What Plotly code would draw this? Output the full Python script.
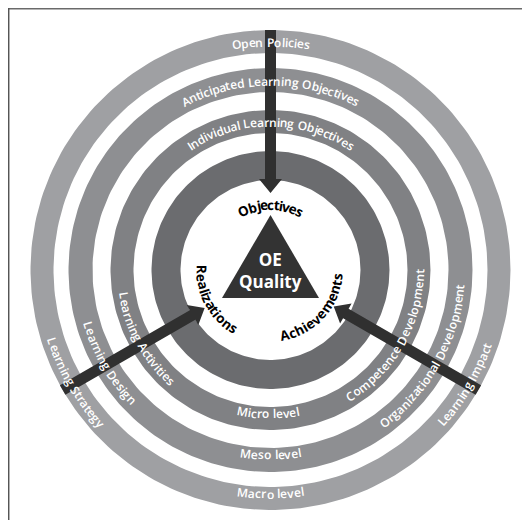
import math
import numpy as np
import plotly.graph_objects as go

# ---------------- data (text content) ----------------
center_label = ["OE", "Quality"]
core_labels = ["Objectives", "Realizations", "Achievements"]
objective_labels = ["Open Policies", "Anticipated Learning Objectives", "Individual Learning Objectives"]
realization_labels = ["Learning Strategy", "Learning Design", "Learning Activities"]
achievement_labels = ["Learning Impact", "Organizational Development", "Competence Development"]
level_labels = ["Macro level", "Meso level", "Micro level"]

# ---------------- layout / style constants ----------------
# the page body has an 8px margin, so the figure covers window pixels 8..522 x 8..520
X0, Y0 = 8, 8
FW, FH = 514, 512
CX, CY = 270.5, 270.0
ring_outer = [240, 202, 160, 119]
ring_inner = [217, 178, 137, 90]
ring_colors = ["#9fa0a3", "#8e8f92", "#808184", "#6b6c6f"]
label_r_top = [228, 189, 148]
label_r_side = [229, 190, 149]
label_r_bottom = [224, 185, 144]
left_center_deg = [210, 210, 209]
right_center_deg = [329.5, 330.5, 330.5]
bottom_center_deg = [270, 270, 269]
ARROW_DIRS = [90, 210, 330]
ARROW_TAIL_R = 240
ARROW_TIP_R = [77, 76, 73]
SHAFT_HW, HEAD_HW, HEAD_LEN = 5.5, 11.5, 14
DARK = "#303030"
FONT = "Open Sans"

# approximate Open Sans advance widths (em)
CW = {' ': .26, 'A': .633, 'C': .63, 'D': .72, 'E': .55, 'I': .30, 'L': .54, 'M': .90,
      'O': .78, 'P': .61, 'Q': .78, 'R': .63, 'S': .54, 'a': .556, 'b': .613, 'c': .476,
      'd': .613, 'e': .561, 'g': .548, 'h': .614, 'i': .253, 'j': .253, 'l': .253,
      'm': .93, 'n': .614, 'o': .604, 'p': .613, 'r': .408, 's': .477, 't': .353,
      'u': .614, 'v': .513, 'y': .513, 'z': .477}

fig = go.Figure()


def circle_pts(r, n=240):
    t = np.linspace(0, 2 * np.pi, n)
    return CX + r * np.cos(t), CY - r * np.sin(t)


# rings
for ro, ri, col in zip(ring_outer, ring_inner, ring_colors):
    xo, yo = circle_pts(ro)
    xi, yi = circle_pts(ri)
    fig.add_trace(go.Scatter(x=np.concatenate([xo, xi[::-1]]), y=np.concatenate([yo, yi[::-1]]),
                             mode="lines", fill="toself", fillcolor=col, line=dict(width=0),
                             hoverinfo="skip", showlegend=False))

# arrows
for ang, tip in zip(ARROW_DIRS, ARROW_TIP_R):
    a = math.radians(ang)
    ux, uy = math.cos(a), -math.sin(a)      # outward, screen coords
    px, py = -uy, ux                         # perpendicular

    def P(r, off):
        return CX + ux * r + px * off, CY + uy * r + py * off
    base = tip + HEAD_LEN
    pts = [P(ARROW_TAIL_R, SHAFT_HW), P(base, SHAFT_HW), P(base, HEAD_HW), P(tip, 0),
           P(base, -HEAD_HW), P(base, -SHAFT_HW), P(ARROW_TAIL_R, -SHAFT_HW), P(ARROW_TAIL_R, SHAFT_HW)]
    fig.add_trace(go.Scatter(x=[p[0] for p in pts], y=[p[1] for p in pts], mode="lines",
                             fill="toself", fillcolor=DARK, line=dict(width=0, color=DARK),
                             hoverinfo="skip", showlegend=False))

# triangle
tri_h = 83
tri_x = [CX, CX + 48.5, CX - 48.5, CX]
tri_y = [215, 215 + tri_h, 215 + tri_h, 215]
fig.add_trace(go.Scatter(x=tri_x, y=tri_y, mode="lines", fill="toself", fillcolor="#333333",
                         line=dict(width=0), hoverinfo="skip", showlegend=False))

annotations = []


def arc_text(text, r, center_deg, size, color, top, weight=400, wscale=1.0):
    widths = [CW.get(ch, .55) * size * wscale for ch in text]
    total = sum(widths)
    c = math.radians(center_deg)
    if top:
        start, d = c + total / 2 / r, -1
    else:
        start, d = c - total / 2 / r, 1
    cum = 0.0
    for ch, w in zip(text, widths):
        a = start + d * (cum + w / 2) / r
        cum += w
        if ch == ' ':
            continue
        x = CX + r * math.cos(a)
        y = CY - r * math.sin(a)
        deg = math.degrees(a)
        rot = 90 - deg if top else -deg - 90
        rot = (rot + 180) % 360 - 180
        annotations.append(dict(x=x, y=y, xref="x", yref="y", text=ch, showarrow=False,
                                textangle=rot, xanchor="center", yanchor="middle",
                                font=dict(family=FONT, size=size, color=color, weight=weight)))


for i in range(3):
    arc_text(objective_labels[i], label_r_top[i], 90, 12, "white", True, weight=600, wscale=1.04)
    arc_text(realization_labels[i], label_r_side[i], left_center_deg[i], 12, "white", False, weight=600, wscale=1.04)
    arc_text(achievement_labels[i], label_r_side[i], right_center_deg[i], 12, "white", False, weight=600, wscale=1.04)
    arc_text(level_labels[i], label_r_bottom[i], bottom_center_deg[i], 12, "white", False, weight=600, wscale=1.04)

arc_text(core_labels[0], 65, 90, 13.5, "black", True, weight=700, wscale=1.03)
arc_text(core_labels[1], 69, 208, 13.5, "black", False, weight=700, wscale=1.03)
arc_text(core_labels[2], 67, 318, 13.5, "black", False, weight=700, wscale=1.03)

annotations.append(dict(x=270, y=270, xref="x", yref="y",
                        text=center_label[0] + "<br>" + center_label[1], showarrow=False,
                        xanchor="center", yanchor="middle", align="center",
                        font=dict(family=FONT, size=17, color="white", weight=700)))

# frame
shapes = [dict(type="line", xref="x", yref="y", x0=8, y0=8.7, x1=522, y1=8.7, line=dict(color="#6a6a6a", width=1.5)),
          dict(type="line", xref="x", yref="y", x0=8.7, y0=8, x1=8.7, y1=520, line=dict(color="#555", width=1.5))]

fig.update_layout(width=FW, height=FH, margin=dict(l=0, r=0, t=0, b=0),
                  paper_bgcolor="white", plot_bgcolor="white",
                  xaxis=dict(range=[X0, X0 + FW], visible=False, fixedrange=True),
                  yaxis=dict(range=[Y0 + FH, Y0], visible=False, fixedrange=True),
                  annotations=annotations, shapes=shapes, showlegend=False)

fig.write_html("out.html")
